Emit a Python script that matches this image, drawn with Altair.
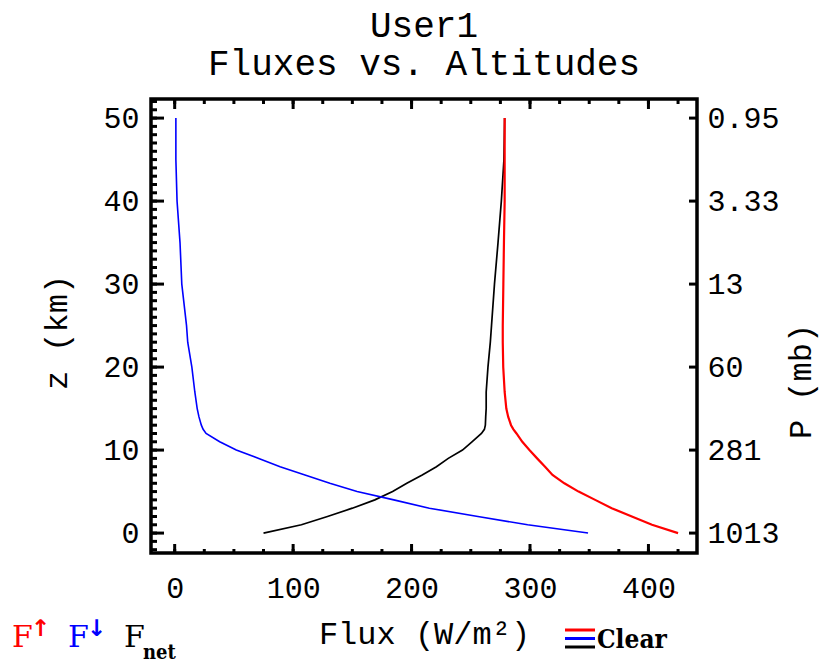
import altair as alt
import pandas as pd

# ---- data ----
z_km = [0, 1, 2, 3, 4, 5, 6, 7, 8, 9, 10, 11, 12, 12.5, 13, 14, 15, 17, 20, 23, 25, 30, 35, 40, 45, 50]
flux_up = [425, 403, 386, 369, 355, 341, 329, 319, 312.7, 306, 299.5, 293.5, 288.6,
           286, 284, 281.6, 280, 278.6, 277.4, 277, 277, 277.5, 278, 278.6, 278.6, 278.6]
flux_down = [349, 298, 256, 215, 185, 154, 131, 110, 89, 71, 52, 38, 26.5,
             24, 22.5, 20.5, 19, 17, 14.5, 11, 10, 6, 4.5, 2, 1, 1]
flux_net = [75, 107, 129, 150, 169, 184, 196, 209, 221, 231, 243, 251, 259,
            261.5, 262.3, 262.6, 263, 263, 264.5, 266.5, 267.5, 270, 273, 275.8, 278, 278.6]

x_major = [0, 100, 200, 300, 400]
x_minor = [0, 25, 50, 75, 100, 125, 150, 175, 200, 225, 250, 275, 300, 325, 350, 375, 400, 425]
z_major = [0, 10, 20, 30, 40, 50]
z_minor = list(range(-2, 53))
p_labels = ["1013", "281", "60", "13", "3.33", "0.95"]

title_lines = ["User1", "Fluxes vs. Altitudes"]
x_title = "Flux (W/m\u00b2)"
y_title = "z (km)"
p_title = "P (mb)"

FONT = "Liberation Mono"
W, H = 546, 454

xs = alt.Scale(domain=[-20, 441], nice=False, zero=False)
ys = alt.Scale(domain=[-2.4, 52.3], nice=False, zero=False)

x_axis = alt.Axis(values=x_major, format="d", ticks=False, domain=False, grid=False,
                  labelFont=FONT, labelFontSize=30, labelColor="black", labelPadding=20,
                  title=x_title, titleFont=FONT, titleFontSize=32, titleFontWeight="normal",
                  titleColor="black", titleX=W / 2, titleY=80, titleBaseline="middle",
                  titleAlign="center")
y_axis_left = alt.Axis(values=z_major, format="d", ticks=False, domain=False, grid=False,
                       labelFont=FONT, labelFontSize=30, labelColor="black", labelPadding=12,
                       labelBaseline="middle",
                       title=y_title, titleFont=FONT, titleFontSize=32, titleFontWeight="normal",
                       titleColor="black", titleX=-95, titleY=233, titleBaseline="middle",
                       titleAlign="center", titleAngle=270)

expr = "''"
for zv, pl in zip(z_major, p_labels):
    expr = f"datum.value == {zv} ? '{pl}' : ({expr})"

y_axis_right = alt.Axis(orient="right", values=z_major, labelExpr=expr, ticks=False,
                        domain=False, grid=False, labelFont=FONT, labelFontSize=30,
                        labelColor="black", labelPadding=10, labelAlign="left",
                        labelBaseline="middle",
                        title=p_title, titleFont=FONT, titleFontSize=32,
                        titleFontWeight="normal", titleColor="black", titleX=103, titleY=282,
                        titleBaseline="middle", titleAlign="center", titleAngle=270)

df_net = pd.DataFrame({"z": z_km, "flux": flux_net})
df_up = pd.DataFrame({"z": z_km, "flux": flux_up})
df_down = pd.DataFrame({"z": z_km, "flux": flux_down})

def X(field):
    return alt.X(field, scale=xs, axis=x_axis)

net_line = alt.Chart(df_net).mark_line(color="black", strokeWidth=1.7).encode(
    x=X("flux:Q"),
    y=alt.Y("z:Q", scale=ys, axis=y_axis_left),
    order="z:Q",
)
down_line = alt.Chart(df_down).mark_line(color="#0000ff", strokeWidth=1.6).encode(
    x=X("flux:Q"),
    y=alt.Y("z:Q", scale=ys, axis=None),
    order="z:Q",
)
up_line = alt.Chart(df_up).mark_line(color="#ff0000", strokeWidth=2.2).encode(
    x=X("flux:Q"),
    y=alt.Y("z:Q", scale=ys, axis=None),
    order="z:Q",
)

TW = 3
df_xmin = pd.DataFrame({"flux": x_minor})
df_xmaj = pd.DataFrame({"flux": x_major})
df_zmin = pd.DataFrame({"z": z_minor})
df_zmaj = pd.DataFrame({"z": z_major})

def xtick(df, y1, y2):
    return alt.Chart(df).mark_rule(color="black", strokeWidth=TW).encode(
        x=X("flux:Q"), y=alt.value(y1), y2=alt.value(y2))

def ztick(df, x1, x2, axis=None):
    return alt.Chart(df).mark_rule(color="black", strokeWidth=TW).encode(
        y=alt.Y("z:Q", scale=ys, axis=axis), x=alt.value(x1), x2=alt.value(x2))

ticks = [
    xtick(df_xmin, H, H - 4), xtick(df_xmaj, H, H - 9),
    xtick(df_xmin, 0, 5), xtick(df_xmaj, 0, 10),
    ztick(df_zmin, 0, 6), ztick(df_zmaj, 0, 13),
]
right_ticks = ztick(df_zmaj, W, W - 8, axis=y_axis_right)

# ---- bottom legend (IDL style annotation) ----
leg_F = ["F", "F", "F"]
leg_sup = ["\u2191", "\u2193"]
leg_sub = "net"
leg_case = "Clear"
leg_colors = ["#ff0000", "#0000ff", "black"]

def txt(text, x, y, color, size, weight="normal", font=FONT):
    return alt.Chart(pd.DataFrame({"t": [text]})).mark_text(
        font=font, fontSize=size, fontWeight=weight, color=color, align="left",
        baseline="alphabetic").encode(text="t:N", x=alt.value(x), y=alt.value(y))

legend = [
    txt(leg_F[0], -139, 548, leg_colors[0], 30, font="DejaVu Serif"),
    txt(leg_sup[0], -120, 537, leg_colors[0], 23, "bold", "DejaVu Sans"),
    txt(leg_F[1], -83, 548, leg_colors[1], 30, font="DejaVu Serif"),
    txt(leg_sup[1], -64, 537, leg_colors[1], 23, "bold", "DejaVu Sans"),
    txt(leg_F[2], -27, 548, leg_colors[2], 30, font="DejaVu Serif"),
    txt(leg_sub, -8, 560, leg_colors[2], 20, "bold", "DejaVu Serif Condensed"),
    txt(leg_case, 446, 549, "black", 26, "bold", "DejaVu Serif Condensed"),
]
for i, c in enumerate(leg_colors):
    legend.append(alt.Chart(pd.DataFrame({"k": [c]})).mark_rule(color=c, strokeWidth=3).encode(
        x=alt.value(414), x2=alt.value(444), y=alt.value(531 + 8.5 * i)))

chart = alt.layer(net_line, down_line, up_line, *ticks, right_ticks, *legend).resolve_axis(
    y="independent"
).resolve_scale(y="shared", x="shared").properties(
    width=W, height=H,
    autosize=alt.AutoSizeParams(type="none"),
    padding={"left": 151, "top": 99, "right": 128, "bottom": 116},
    title=alt.Title(title_lines, font=FONT, fontSize=36, fontWeight="normal", color="black",
                    anchor="middle", frame="group", offset=25, lineHeight=38,
                    baseline="alphabetic", dy=38),
    background="white",
).configure_view(stroke="black", strokeWidth=3.5)

chart.save("out.html", embed_options={"renderer": "svg", "actions": False})
